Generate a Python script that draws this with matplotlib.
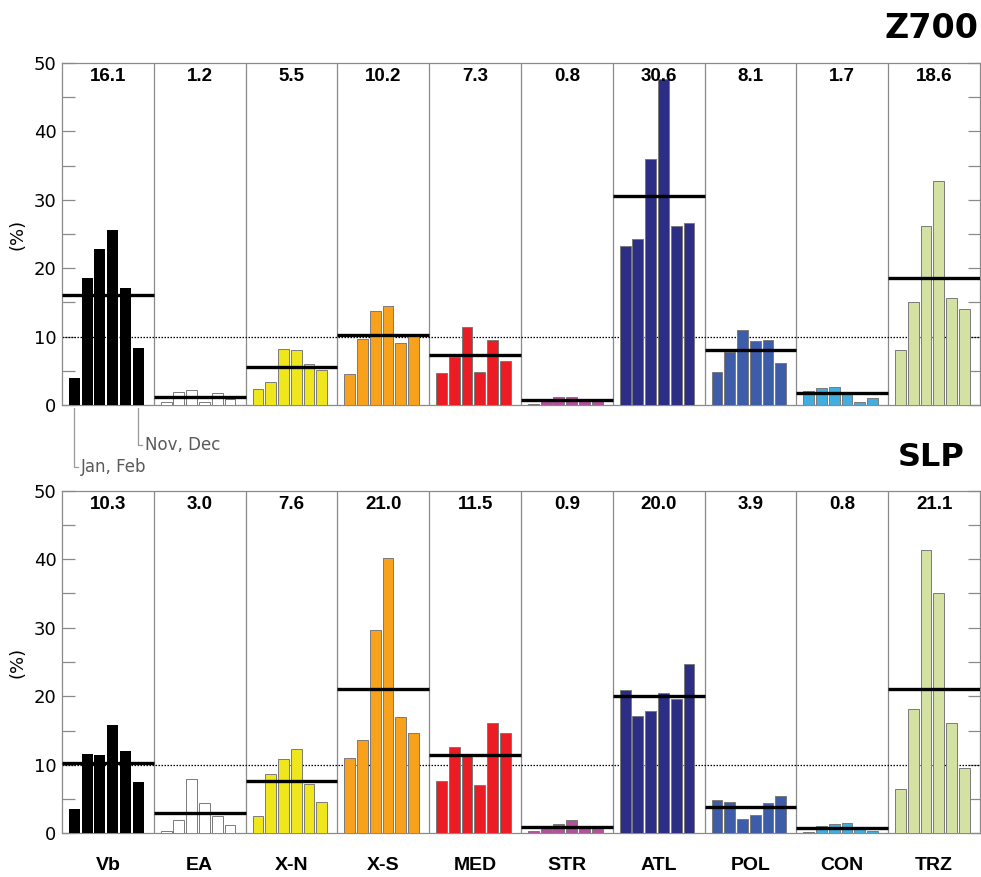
import matplotlib
matplotlib.use("Agg")
import matplotlib.pyplot as plt
import numpy as np

categories = ["Vb", "EA", "X-N", "X-S", "MED", "STR", "ATL", "POL", "CON", "TRZ"]
periods = ["Jan, Feb", "Mar, Apr", "May, Jun", "Jul, Aug", "Sep, Oct", "Nov, Dec"]

z700_values = [
    [4.0, 18.6, 22.8, 25.6, 17.1, 8.4],
    [0.4, 1.9, 2.2, 0.4, 1.7, 0.9],
    [2.3, 3.3, 8.2, 8.0, 6.0, 5.1],
    [4.5, 9.6, 13.7, 14.5, 9.0, 10.1],
    [4.7, 7.0, 11.4, 4.8, 9.5, 6.4],
    [0.15, 0.6, 1.1, 1.2, 0.7, 0.6],
    [23.2, 24.2, 36.0, 47.6, 26.2, 26.6],
    [4.8, 7.8, 10.9, 9.4, 9.5, 6.2],
    [2.0, 2.5, 2.6, 1.6, 0.4, 1.0],
    [8.0, 15.1, 26.2, 32.8, 15.7, 14.0],
]
z700_means = [16.1, 1.2, 5.5, 10.2, 7.3, 0.8, 30.6, 8.1, 1.7, 18.6]

slp_values = [
    [3.6, 11.6, 11.4, 15.8, 12.0, 7.5],
    [0.4, 2.0, 7.9, 4.4, 2.5, 1.2],
    [2.5, 8.7, 10.8, 12.3, 7.2, 4.5],
    [11.0, 13.6, 29.6, 40.2, 17.0, 14.7],
    [7.6, 12.6, 11.4, 7.0, 16.1, 14.6],
    [0.4, 0.6, 1.4, 1.9, 0.9, 0.7],
    [20.9, 17.1, 17.8, 20.5, 19.6, 24.7],
    [4.9, 4.6, 2.1, 2.7, 4.4, 5.5],
    [0.2, 1.1, 1.4, 1.5, 0.8, 0.3],
    [6.4, 18.1, 41.3, 35.0, 16.1, 9.6],
]
slp_means = [10.3, 3.0, 7.6, 21.0, 11.5, 0.9, 20.0, 3.9, 0.8, 21.1]

colors = ["#000000", "#FFFFFF", "#F0E61E", "#F7A11D", "#EC1C24",
          "#B4519E", "#2B2E84", "#3D5CAA", "#42AEE0", "#D3E2A2"]

GRAY = "#8a8a8a"

fig = plt.figure(figsize=(9.81, 8.77), dpi=100)
ax_top = fig.add_axes([62/981, 1-405/877, 918/981, 342/877])
ax_bot = fig.add_axes([62/981, 1-833.3/877, 918/981, 342.6/877])

slot = 0.139
bw = 0.118
offset = 0.065


def draw_panel(ax, values, means, show_labels):
    n = len(categories)
    for i in range(n):
        xs = i + offset + slot/2 + slot*np.arange(len(values[i]))
        if colors[i] == "#000000":
            ax.bar(xs, values[i], width=0.122, color=colors[i], edgecolor="none",
                   linewidth=0, zorder=3)
        else:
            ax.bar(xs, values[i], width=bw, color=colors[i], edgecolor="#7a7a7a",
                   linewidth=0.7, zorder=3)
        ax.hlines(means[i], i, i+1, colors="black", linewidth=2.4, zorder=4)
        ax.text(i+0.5, 48.0, f"{means[i]:.1f}", ha="center", va="center",
                fontsize=13.5, fontweight="bold", family="Liberation Sans")
        if i > 0:
            ax.axvline(i, color=GRAY, linewidth=0.9, zorder=2)
    ax.axhline(10, color="black", linestyle=(0, (1.2, 1.2)), linewidth=0.9, zorder=2)
    ax.set_xlim(0, n)
    ax.set_ylim(0, 50)
    ax.set_yticks([0, 10, 20, 30, 40, 50])
    ax.set_yticks([5, 15, 25, 35, 45], minor=True)
    ax.tick_params(axis="y", which="both", direction="in", length=9, color=GRAY,
                   right=True, labelsize=13, width=0.9, pad=4)
    for lab in ax.get_yticklabels():
        lab.set_family("DejaVu Sans")
    if show_labels:
        ax.set_xticks(np.arange(n) + 0.5)
        ax.set_xticklabels(categories, fontsize=14, fontweight="bold",
                           family="Liberation Sans")
        ax.tick_params(axis="x", length=0, pad=17)
    else:
        ax.set_xticks([])
    for s in ax.spines.values():
        s.set_color(GRAY)
        s.set_linewidth(0.9)
    ax.set_ylabel("(%)", fontsize=13, labelpad=5)


draw_panel(ax_top, z700_values, z700_means, False)
draw_panel(ax_bot, slp_values, slp_means, True)

fig.text(978/981, 1-28/877, "Z700", ha="right", va="center", fontsize=24,
         fontweight="bold", family="DejaVu Sans")
fig.text(965/981, 1-457/877, "SLP", ha="right", va="center", fontsize=23,
         fontweight="bold", family="DejaVu Sans")

# period annotation on first group of top panel
x_first = offset + slot/2
x_last = offset + slot/2 + slot*5
ax_top.annotate(periods[0], xy=(x_first, -0.5), xycoords="data",
                xytext=(x_first + 0.07, -9.0), textcoords="data",
                ha="left", va="center", fontsize=12, color="#5a5a5a",
                arrowprops=dict(arrowstyle="-", color="#999999", lw=0.9,
                                connectionstyle="angle,angleA=0,angleB=90,rad=0",
                                shrinkA=0, shrinkB=0),
                annotation_clip=False)
ax_top.annotate(periods[5], xy=(x_last, -0.5), xycoords="data",
                xytext=(x_last + 0.07, -5.8), textcoords="data",
                ha="left", va="center", fontsize=12, color="#5a5a5a",
                arrowprops=dict(arrowstyle="-", color="#999999", lw=0.9,
                                connectionstyle="angle,angleA=0,angleB=90,rad=0",
                                shrinkA=0, shrinkB=0),
                annotation_clip=False)

fig.savefig("out.png", dpi=100)
